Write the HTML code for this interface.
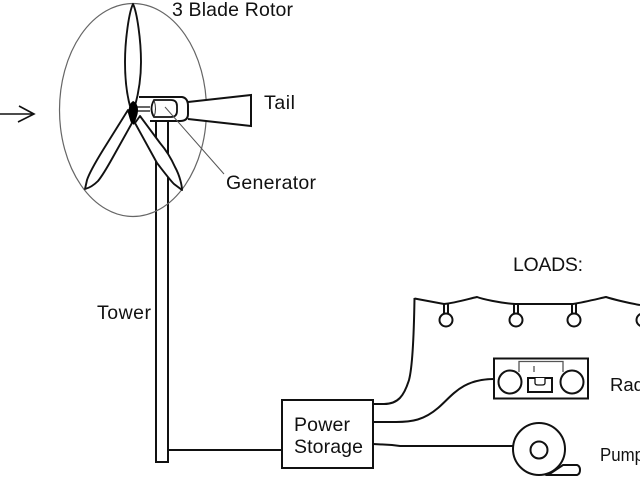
<!DOCTYPE html>
<html><head><meta charset="utf-8"><style>
html,body{margin:0;padding:0;background:#fff;width:640px;height:480px;overflow:hidden}
svg{display:block}
text{font-family:"Liberation Sans",sans-serif;font-size:19.5px;fill:#111}
</style></head><body>
<svg width="640" height="480" viewBox="0 0 640 480" xmlns="http://www.w3.org/2000/svg">
<rect width="640" height="480" fill="#fff"/>
<!-- inflow arrow -->
<path d="M0 114H34M19 106L34 114L18 122" fill="none" stroke="#111" stroke-width="1.600"/>
<!-- tower -->
<path d="M156 120V462H168V120" fill="#fff" stroke="#111" stroke-width="2"/>
<!-- ellipse -->
<ellipse cx="133" cy="110" rx="73.500" ry="106.500" fill="none" stroke="#666" stroke-width="1.200"/>
<!-- tail -->
<path d="M188 102L251 95V126L188 119" fill="#fff" stroke="#111" stroke-width="2"/>
<!-- nacelle -->
<path d="M139 97H182Q188 98 188 106V114Q188 121 180 121H150" fill="#fff" stroke="#111" stroke-width="2"/>
<path d="M154 100H171Q177 100 177 106V111Q177 117 171 117H154Q149 109 154 100Z" fill="#fff" stroke="#111" stroke-width="1.800"/>
<path d="M154 100Q157 109 154 117" fill="none" stroke="#333" stroke-width="1"/>
<path d="M136 107H150M136 111H150" stroke="#333" stroke-width="1.500"/>
<!-- generator leader -->
<path d="M165 107L224 174" stroke="#555" stroke-width="1" fill="none"/>
<!-- blades -->
<g fill="#fff" stroke="#111" stroke-width="1.900" stroke-linejoin="round">
<path d="M133 4C137 12 141 40 141 62C141 80 138 95 135 106H130C127 95 125 80 125 62C125 40 129 12 133 4Z"/>
<path d="M128 110L103 150C95 163 89 174 87 180L85 189C89 188 94 185 98 181C103 175 108 166 113 157L132 123Z"/>
<path d="M135 123L157 163C164 172 170 180 174 184L182 190C182 186 180 176 175 167C171 158 166 150 160 143L140 116Z"/>
</g>
<path d="M133 101C138 103 139 110 137 116L134 125L131 122C128 116 127 105 133 101Z" fill="#000"/>
<!-- power box -->
<rect x="282" y="400" width="91" height="68" fill="#fff" stroke="#111" stroke-width="2"/>
<path d="M168 450H282" stroke="#111" stroke-width="2" fill="none"/>
<!-- wires -->
<g fill="none" stroke="#111" stroke-width="2">
<path d="M373 404H384C398 404 404 396 409 380C413 365 414 330 414.500 298"/>
<path d="M373 422H396C412 422 424 420 438 408C452 396 462 379 494 379"/>
<path d="M373 444L392 445L400 446H513"/>
<!-- garland -->
<path d="M414.500 298.500L444 304C455 303 468 299 477 297C482 299 500 303 515 304C530 304 555 304 573 304C585 302 597 299 606 297C612 299 628 303 640 305"/>
<path d="M444 304V314M448 304V314M514 304V314M518 304V314M572 304V314M576 304V314"/>
</g>
<g fill="#fff" stroke="#111" stroke-width="2">
<circle cx="446" cy="320" r="6.500"/>
<circle cx="516" cy="320" r="6.500"/>
<circle cx="574" cy="320" r="6.500"/>
<circle cx="643" cy="320" r="6.500"/>
<!-- radio -->
<rect x="494" y="358.500" width="94" height="40"/>
</g>
<path d="M519 372V361.500H563V372M534 366V372" fill="none" stroke="#555" stroke-width="1.300"/>
<g fill="#fff" stroke="#111" stroke-width="2">
<circle cx="510" cy="382" r="11.500"/>
<circle cx="572" cy="382" r="11.500"/>
<rect x="528" y="378" width="24" height="14"/>
<path d="M535 378V383Q535 385 538 385H542Q545 385 545 383L545 378" stroke-width="1.300"/>
<!-- pump -->
<path d="M548 475L563 465H577Q580 466 580 470Q580 474 577 475H548Z"/>
<circle cx="539" cy="449" r="26"/>
<circle cx="539" cy="450" r="8.500"/>
</g>
<!-- labels -->
<text x="172" y="16" textLength="121" lengthAdjust="spacing">3 Blade Rotor</text>
<text x="264" y="109" textLength="31" lengthAdjust="spacing">Tail</text>
<text x="226" y="189" textLength="90" lengthAdjust="spacing">Generator</text>
<text x="97" y="319" textLength="54" lengthAdjust="spacing">Tower</text>
<text x="294" y="431" textLength="56" lengthAdjust="spacing">Power</text>
<text x="294" y="453" textLength="69" lengthAdjust="spacing">Storage</text>
<text x="513" y="271" textLength="70" lengthAdjust="spacing">LOADS:</text>
<text x="610" y="391" style="font-size:18.5px">Radio</text>
<text x="600" y="461" style="font-size:18.5px" textLength="44" lengthAdjust="spacingAndGlyphs">Pump</text>
</svg>
</body></html>
